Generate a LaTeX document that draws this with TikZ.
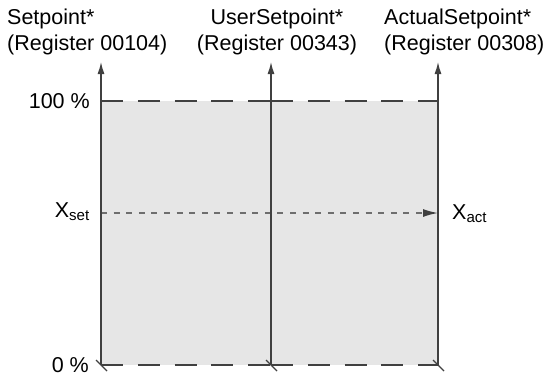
\documentclass[tikz,border=0pt]{standalone}
\usepackage{fontspec}
\setmainfont{Liberation Sans}
\usetikzlibrary{arrows.meta, positioning}
\definecolor{linegray}{RGB}{64,64,64}
\definecolor{dashgray}{RGB}{110,110,110}
\definecolor{fillgray}{RGB}{230,230,230}

\begin{document}
\begin{tikzpicture}[x=1pt, y=-1pt,
    lbl/.style={font=\fontsize{21.5}{25}\selectfont, inner sep=0pt},
    axis/.style={line width=1.3pt, linegray, -{Latex[length=12pt, width=7pt]}},
    level/.style={line width=1.5pt, linegray, dash pattern=on 22pt off 14.75pt},
    xline/.style={line width=1.4pt, dashgray, dash pattern=on 6pt off 6.6pt,
                  -{Latex[length=15pt, width=8pt, color=linegray]}},
    tick/.style={line width=1.2pt, linegray},
  ]
  \useasboundingbox (0,0) rectangle (549,378);
  % axis points: bottom, 100 %, set value, top
  \coordinate (b1) at (101,365);
  \coordinate (b2) at (271,365);
  \coordinate (b3) at (438,365);
  \coordinate (h1) at (101,101);
  \coordinate (h2) at (271,101);
  \coordinate (h3) at (438,101);
  \coordinate (m1) at (101,213);
  \coordinate (m3) at (438,213);
  \coordinate (t1) at (101,62);
  \coordinate (t2) at (271,62);
  \coordinate (t3) at (438,62);

  \fill[fillgray] (b1) rectangle (h3);

  \draw[level] (h1) -- (h2);
  \draw[level] (h2) -- (h3);
  \draw[level] (b1) -- (b2);
  \draw[level] (b2) -- (b3);
  \draw[xline] (m1) -- (m3);

  \draw[axis] (b1) -- (t1);
  \draw[axis] (b2) -- (t2);
  \draw[axis] (b3) -- (t3);
  \foreach \b in {b1,b2,b3}
    \draw[tick] ([shift={(-5,-5)}]\b) -- ([shift={(6,6)}]\b);

  % register labels
  \node[lbl, anchor=base west] (sp) at (7,24) {Setpoint*};
  \node[lbl, anchor=base west] (spreg) at (7,50) {(Register 00104)};
  \node[lbl, anchor=base] (usp) at (277,24) {UserSetpoint*};
  \node[lbl, anchor=base] (uspreg) at (277,50) {(Register 00343)};
  \node[lbl, anchor=base west] (asp) at (384,24) {ActualSetpoint*};
  \node[lbl, anchor=base west] (aspreg) at (384,50) {(Register 00308)};

  % levels
  \node[lbl, anchor=base east] (full) at (90,108) {100 \%};
  \node[lbl, anchor=base east] (xset) at (90,217) {X\textsubscript{set}};
  \node[lbl, anchor=base east] (zero) at (89,372) {0 \%};
  \node[lbl, anchor=base west] (xact) at (452,219) {X\textsubscript{act}};
\end{tikzpicture}
\end{document}
